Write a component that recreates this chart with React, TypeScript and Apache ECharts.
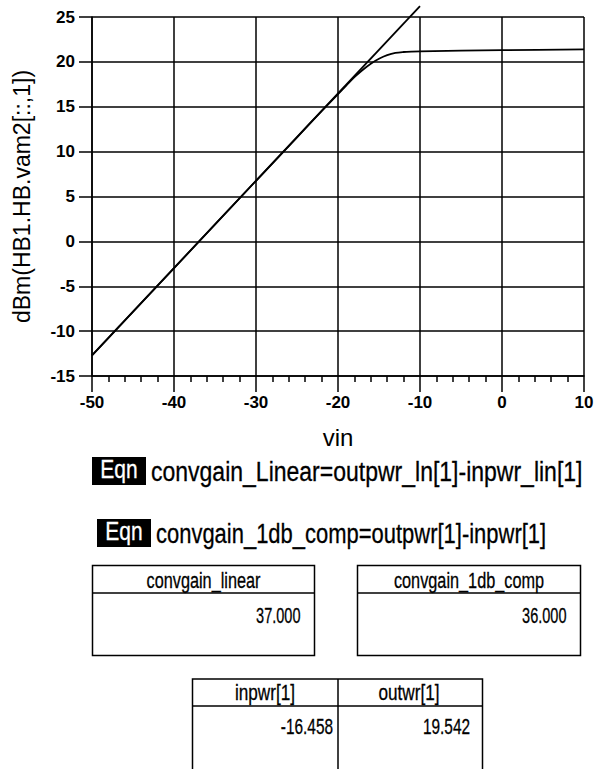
import React, { useEffect, useRef } from "react";
import * as echarts from "echarts";

// ---- data ----
const vinLinear = [-50, -10];
const outLinear = [-12.7, 26.2];

const vinSweep = [-50, -40, -30, -25, -22, -20, -19, -18, -17, -16, -15, -14, -13, -12, -11, -10, 0, 10];
const outCompressed = [-12.7, -2.98, 6.75, 11.6, 14.5, 16.4, 17.35, 18.3, 19.1, 19.8, 20.35, 20.75, 21.0, 21.1, 21.15, 21.18, 21.3, 21.4];

const eqnLines = ["convgain_Linear=outpwr_ln[1]-inpwr_lin[1]", "convgain_1db_comp=outpwr[1]-inpwr[1]"];
const gainHeaders = ["convgain_linear", "convgain_1db_comp"];
const gainValues = ["37.000", "36.000"];
const pwrHeaders = ["inpwr[1]", "outwr[1]"];
const pwrValues = ["-16.458", "19.542"];

const FONT = "'Liberation Sans', Arial, sans-serif";

function txt(text: string, x: number, y: number, size: number, align: string, scaleX: number, fill = "#000") {
  return {
    type: "text",
    x,
    y,
    scaleX,
    style: {
      text,
      fill,
      stroke: fill,
      lineWidth: 0.3,
      fontSize: size,
      fontFamily: FONT,
      align,
      verticalAlign: "middle",
    },
  };
}

export default function App() {
  const ref = useRef<HTMLDivElement>(null);
  useEffect(() => {
    document.body.style.margin = "0";
    const chart = echarts.init(ref.current!, undefined, { renderer: "svg" });
    const lineStyle = { color: "#000", width: 1.5 };
    const graphic: any[] = [];
    // Eqn 1
    graphic.push({ type: "rect", shape: { x: 92, y: 457, width: 54, height: 28 }, style: { fill: "#000" } });
    graphic.push(txt("Eqn", 119, 469, 25, "center", 0.84, "#fff"));
    graphic.push(txt(eqnLines[0], 151, 471, 28, "left", 0.822));
    // Eqn 2
    graphic.push({ type: "rect", shape: { x: 97, y: 519, width: 54, height: 28 }, style: { fill: "#000" } });
    graphic.push(txt("Eqn", 124, 531, 25, "center", 0.84, "#fff"));
    graphic.push(txt(eqnLines[1], 156, 533, 28, "left", 0.785));
    // gain tables
    const tbls = [
      { x: 92.5, w: 222 },
      { x: 357.5, w: 223 },
    ];
    tbls.forEach((t, i) => {
      graphic.push({ type: "rect", shape: { x: t.x, y: 565.5, width: t.w, height: 90 }, style: { fill: "none", stroke: "#000", lineWidth: 1.5 } });
      graphic.push({ type: "line", shape: { x1: t.x, y1: 593, x2: t.x + t.w, y2: 593 }, style: { stroke: "#000", lineWidth: 1.5 } });
      graphic.push(txt(gainHeaders[i], t.x + t.w / 2, 580, 22, "center", 0.74));
      graphic.push(txt(gainValues[i], t.x + t.w - 14, 615, 22, "right", 0.66));
    });
    // power table
    graphic.push({ type: "rect", shape: { x: 192.5, y: 679, width: 290, height: 110 }, style: { fill: "none", stroke: "#000", lineWidth: 1.5 } });
    graphic.push({ type: "line", shape: { x1: 338, y1: 679, x2: 338, y2: 789 }, style: { stroke: "#000", lineWidth: 1.5 } });
    graphic.push({ type: "line", shape: { x1: 192.5, y1: 706, x2: 482.5, y2: 706 }, style: { stroke: "#000", lineWidth: 1.5 } });
    graphic.push(txt(pwrHeaders[0], 265, 692, 22, "center", 0.78));
    graphic.push(txt(pwrHeaders[1], 409, 692, 22, "center", 0.78));
    graphic.push(txt(pwrValues[0], 333, 726, 22, "right", 0.7));
    graphic.push(txt(pwrValues[1], 470, 726, 22, "right", 0.7));

    chart.setOption({
      animation: false,
      backgroundColor: "#fff",
      grid: { left: 92, top: 17, width: 492, height: 359, containLabel: false },
      xAxis: {
        type: "value",
        min: -50,
        max: 10,
        interval: 10,
        name: "vin",
        nameLocation: "middle",
        nameGap: 49,
        nameTextStyle: { color: "#000", fontSize: 24, fontFamily: FONT },
        axisLine: { show: true, onZero: false, lineStyle },
        axisTick: { show: true, length: 16, lineStyle },
        minorTick: { show: true, splitNumber: 5, length: 6, lineStyle },
        axisLabel: { color: "#000", fontSize: 17, fontWeight: "bold", fontFamily: FONT, margin: 18 },
        splitLine: { show: true, lineStyle },
      },
      yAxis: {
        type: "value",
        min: -15,
        max: 25,
        interval: 5,
        name: "dBm(HB1.HB.vam2[::,1])",
        nameLocation: "middle",
        nameGap: 59,
        nameTextStyle: { color: "#000", fontSize: 23, fontFamily: FONT },
        axisLine: { show: true, onZero: false, lineStyle },
        axisTick: { show: true, length: 13, lineStyle },
        axisLabel: { color: "#000", fontSize: 17, fontWeight: "bold", fontFamily: FONT, margin: 17 },
        splitLine: { show: true, lineStyle },
      },
      series: [
        {
          type: "line",
          data: vinLinear.map((v, i) => [v, outLinear[i]]),
          showSymbol: false,
          clip: false,
          lineStyle: { color: "#000", width: 1.8 },
        },
        {
          type: "line",
          data: vinSweep.map((v, i) => [v, outCompressed[i]]),
          showSymbol: false,
          smooth: 0.3,
          clip: false,
          lineStyle: { color: "#000", width: 1.8 },
        },
      ],
      graphic,
    });
    return () => chart.dispose();
  }, []);
  return <div ref={ref} style={{ position: "absolute", left: 0, top: 0, width: 602, height: 769 }} />;
}
